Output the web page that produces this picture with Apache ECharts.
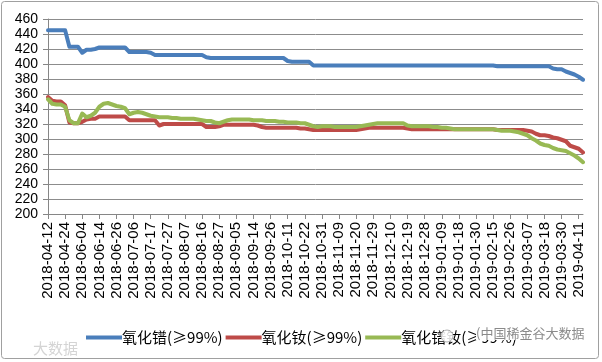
<!DOCTYPE html>
<html>
<head>
<meta charset="utf-8">
<script src="https://cdn.jsdelivr.net/npm/echarts@6/dist/echarts.min.js"></script>
<style>
html,body{margin:0;padding:0;background:#fff;}
#chart{width:602px;height:362px;}
</style>
</head>
<body>
<div id="chart"></div>
<script>
var categories = [
"2018-04-12","2018-04-16","2018-04-18","2018-04-20","2018-04-24","2018-04-26","2018-05-02","2018-05-30",
"2018-06-04","2018-06-06","2018-06-08","2018-06-12","2018-06-14","2018-06-18","2018-06-20","2018-06-22",
"2018-06-26","2018-06-28","2018-07-02","2018-07-04","2018-07-06","2018-07-10","2018-07-12","2018-07-16",
"2018-07-17","2018-07-19","2018-07-23","2018-07-25","2018-07-27","2018-07-31","2018-08-02","2018-08-06",
"2018-08-07","2018-08-09","2018-08-13","2018-08-15","2018-08-16","2018-08-20","2018-08-22","2018-08-24",
"2018-08-27","2018-08-29","2018-08-31","2018-09-04","2018-09-05","2018-09-07","2018-09-11","2018-09-13",
"2018-09-14","2018-09-18","2018-09-20","2018-09-25","2018-09-26","2018-09-28","2018-10-08","2018-10-10",
"2018-10-11","2018-10-15","2018-10-17","2018-10-19","2018-10-22","2018-10-24","2018-10-26","2018-10-30",
"2018-10-31","2018-11-02","2018-11-06","2018-11-08","2018-11-09","2018-11-13","2018-11-15","2018-11-19",
"2018-11-20","2018-11-22","2018-11-26","2018-11-28","2018-11-29","2018-12-03","2018-12-05","2018-12-07",
"2018-12-10","2018-12-12","2018-12-14","2018-12-18","2018-12-19","2018-12-21","2018-12-25","2018-12-27",
"2018-12-28","2019-01-03","2019-01-07","2019-01-08","2019-01-09","2019-01-11","2019-01-15","2019-01-17",
"2019-01-18","2019-01-22","2019-01-24","2019-01-28","2019-01-30","2019-02-01","2019-02-12","2019-02-14",
"2019-02-15","2019-02-19","2019-02-21","2019-02-25","2019-02-26","2019-02-28","2019-03-04","2019-03-06",
"2019-03-07","2019-03-11","2019-03-13","2019-03-15","2019-03-18","2019-03-20","2019-03-22","2019-03-27",
"2019-03-30","2019-04-01","2019-04-03","2019-04-09","2019-04-11","2019-04-15"
];

var seriesNames = ["氧化镨(≥99%)", "氧化钕(≥99%)", "氧化镨钕(≥99%)"];

var prOxide = [
445,445,445,445,445,423,423,423,
415,419,419,420,422,422,422,422,
422,422,422,416,416,416,416,416,
415,412,412,412,412,412,412,412,
412,412,412,412,412,409,408,408,
408,408,408,408,408,408,408,408,
408,408,408,408,408,408,408,408,
404,403,403,403,403,403,398,398,
398,398,398,398,398,398,398,398,
398,398,398,398,398,398,398,398,
398,398,398,398,398,398,398,398,
398,398,398,398,398,398,398,398,
398,398,398,398,398,398,398,398,
398,397,397,397,397,397,397,397,
397,397,397,397,397,397,394,393,
393,390,388,386,383,379
];

var ndOxide = [
356,351,350,350,345,322,321,321,
323,326,327,327,330,330,330,330,
330,330,330,325,325,325,325,325,
325,325,318,320,320,320,320,320,
320,320,320,320,320,316,316,316,
317,319,319,319,319,319,319,319,
319,318,316,315,315,315,315,315,
315,315,315,314,314,313,312,312,
312,312,312,312,312,312,312,312,
312,313,314,315,315,315,315,315,
315,315,315,315,314,313,313,313,
313,313,313,313,313,313,313,313,
313,313,313,313,313,313,313,313,
313,312,312,312,312,312,312,312,
311,310,307,305,305,304,302,301,
299,297,291,289,287,282
];

var prNdOxide = [
353,347,346,346,343,325,321,321,
334,329,331,335,343,347,348,346,
344,343,341,333,335,336,335,333,
331,330,329,329,329,328,328,327,
327,327,327,326,325,324,324,322,
321,323,325,326,326,326,326,326,
325,325,325,324,324,324,323,323,
322,322,322,321,321,319,317,316,
317,317,317,316,316,316,316,316,
316,317,318,319,320,321,321,321,
321,321,321,321,318,317,317,317,
317,317,316,316,315,315,314,313,
313,313,313,313,313,313,313,313,
313,312,311,311,311,310,309,307,
305,301,298,294,292,291,288,286,
285,284,281,278,274,269
];

var yMin = 200, yMax = 460, yStep = 20;
var colors = ["#4A7EBB", "#BE4B48", "#98B954"];

var chart = echarts.init(document.getElementById('chart'), null, {renderer: 'canvas'});

function lineSeries(name, data, color) {
  return {
    name: name,
    type: 'line',
    data: data,
    symbol: 'none',
    smooth: false,
    animation: false,
    lineStyle: {width: 4, color: color, cap: 'round', join: 'round'},
    itemStyle: {color: color}
  };
}

var option = {
  animation: false,
  backgroundColor: '#ffffff',
  grid: {left: 48, right: 19, top: 19, bottom: 148, containLabel: false},
  legend: {
    left: 81,
    top: 325,
    itemWidth: 36,
    itemHeight: 4,
    itemGap: 3,
    icon: 'rect',
    data: seriesNames,
    textStyle: {fontSize: 15, color: '#000', fontFamily: 'Noto Sans CJK SC', padding: [0, 0, 0, -5]}
  },
  xAxis: {
    type: 'category',
    data: categories,
    boundaryGap: false,
    axisLine: {show: true, lineStyle: {color: '#868686', width: 1}},
    axisTick: {show: true, interval: 3, length: 5, lineStyle: {color: '#868686'}},
    axisLabel: {
      interval: 3,
      rotate: 90,
      margin: 8,
      fontSize: 15,
      color: '#000',
      fontFamily: 'Liberation Sans'
    },
    splitLine: {show: false}
  },
  yAxis: {
    type: 'value',
    min: yMin,
    max: yMax,
    interval: yStep,
    axisLine: {show: true, lineStyle: {color: '#868686', width: 1}},
    axisTick: {show: true, length: 5, lineStyle: {color: '#868686'}},
    axisLabel: {fontSize: 14, color: '#000', margin: 10, fontFamily: 'Liberation Sans'},
    splitLine: {show: true, lineStyle: {color: '#8c8c8c', width: 1}}
  },
  series: [
    lineSeries(seriesNames[0], prOxide, colors[0]),
    lineSeries(seriesNames[1], ndOxide, colors[1]),
    lineSeries(seriesNames[2], prNdOxide, colors[2])
  ],
  graphic: [
    {type: 'rect', shape: {x: 1.5, y: 1.5, width: 597, height: 357, r: 3}, style: {fill: 'none', stroke: '#a0a0a0', lineWidth: 1}, z: 100},
    {type: 'text', left: 33, top: 341, style: {text: '大数据', fill: '#d4d4d4', font: '15px "Noto Sans CJK SC"'}, z: 100},
    {type: 'circle', shape: {cx: 447, cy: 336, r: 6}, style: {fill: 'rgba(255,255,255,0.85)', stroke: '#b0b0b0', lineWidth: 1}, z: 100},
    {type: 'text', left: 476, top: 327, style: {text: '(中国稀金谷大数据', fill: '#8a8a8a', font: '13px "Noto Sans CJK SC"', backgroundColor: '#ffffff'}, z: 100}
  ]
};
chart.setOption(option);
</script>
</body>
</html>
